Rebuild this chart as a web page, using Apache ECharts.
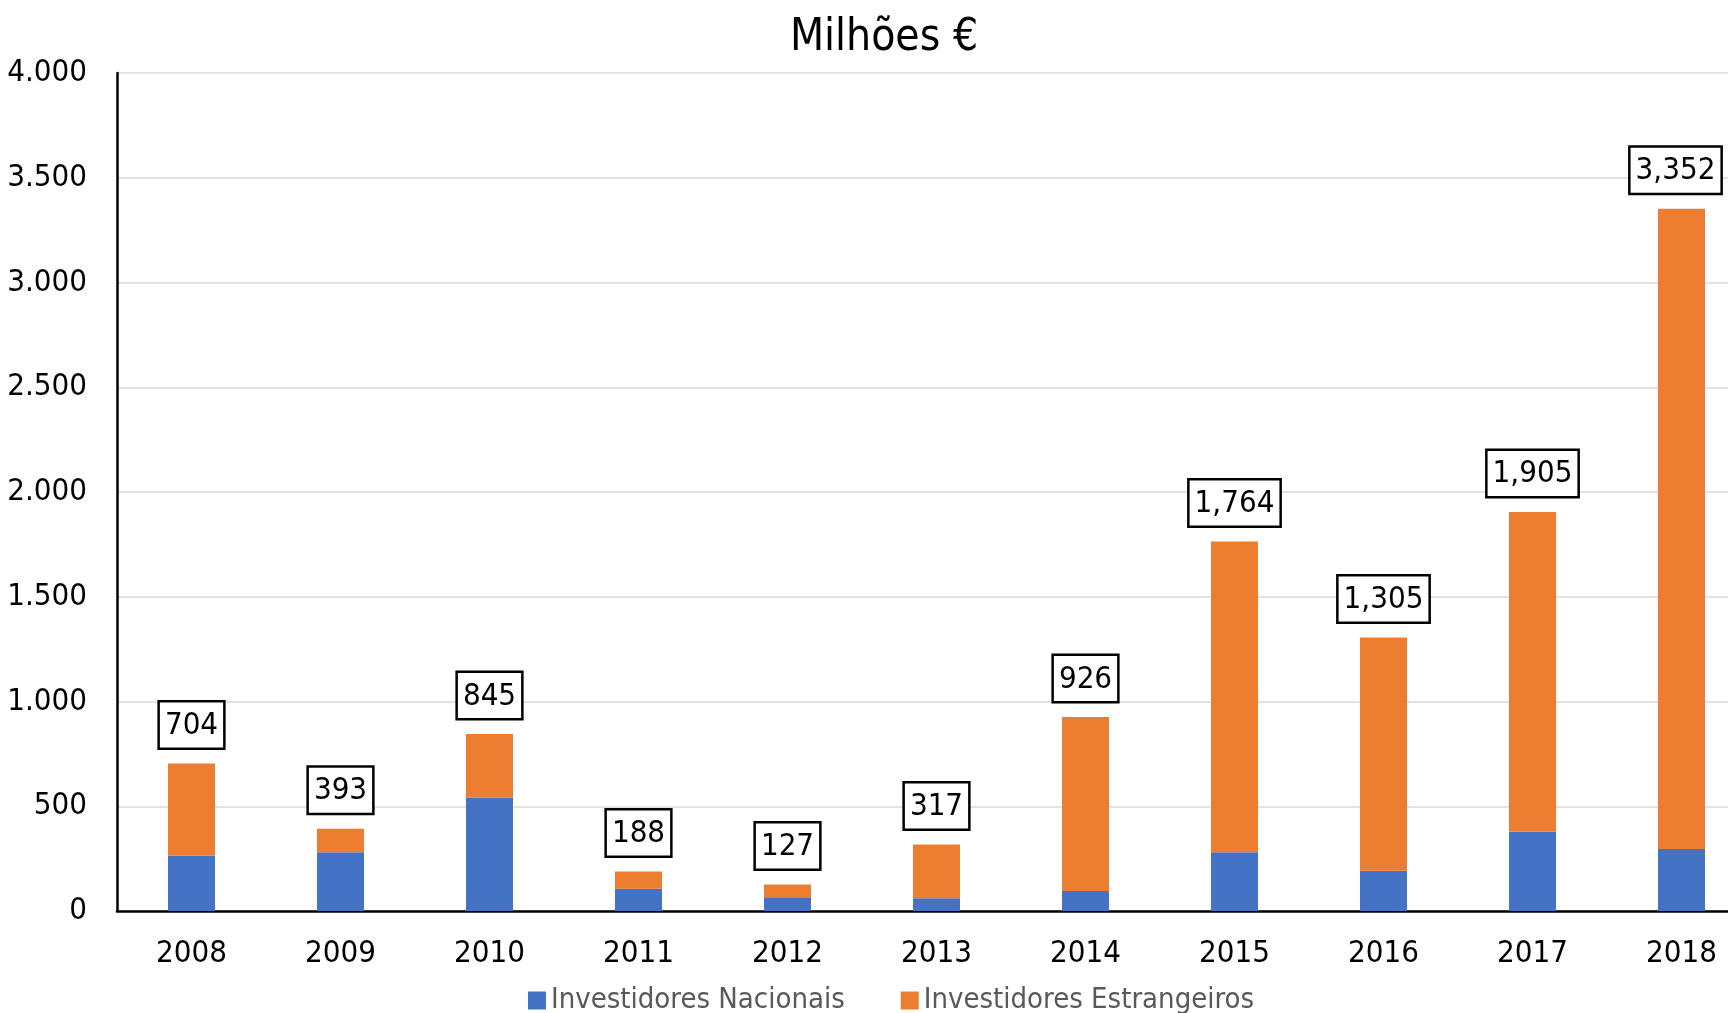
<!DOCTYPE html>
<html>
<head>
<meta charset="utf-8">
<script src="https://cdn.jsdelivr.net/npm/echarts@6/dist/echarts.min.js"></script>
<style>
  html, body { margin: 0; padding: 0; background: #fff; }
  #chart { width: 1728px; height: 1013px; }
</style>
</head>
<body>
<div id="chart"></div>
<script>
const FONT = "'Liberation Sans Narrow', 'DejaVu Sans Condensed', 'Roboto', sans-serif";

const years = ["2008", "2009", "2010", "2011", "2012", "2013", "2014", "2015", "2016", "2017", "2018"];
const totals = [704, 393, 845, 188, 127, 317, 926, 1764, 1305, 1905, 3352];
const nacionais = [264, 281, 540, 106, 66, 61, 96, 280, 192, 380, 296];
const estrangeiros = totals.map((t, i) => t - nacionais[i]);

const chart = echarts.init(document.getElementById("chart"));

function dotThousands(v) {
  return String(v).replace(/\B(?=(\d{3})+(?!\d))/g, ".");
}

function commaThousands(v) {
  return String(v).replace(/\B(?=(\d{3})+(?!\d))/g, ",");
}

// last label sits at the right edge, nudge it back inside like the original
const lastIdx = estrangeiros.length - 1;
const estrangeirosData = estrangeiros.map((v, i) =>
  i === lastIdx ? { value: v, label: { offset: [-6, 0] } } : v
);

chart.setOption({
  animation: false,
  title: {
    text: "Milhões €",
    left: 879,
    top: 12,
    textAlign: "center",
    textStyle: { fontFamily: FONT, fontSize: 44, fontWeight: "normal", color: "#000" }
  },
  legend: {
    data: ["Investidores Nacionais", "Investidores Estrangeiros"],
    left: 523,
    top: 981,
    itemWidth: 18,
    itemHeight: 18,
    itemGap: 56,
    icon: "rect",
    textStyle: { fontFamily: FONT, fontSize: 29, color: "#595959" }
  },
  grid: {
    left: 117,
    top: 73,
    width: 1639,
    height: 838,
    outerBoundsMode: "none",
    containLabel: false
  },
  xAxis: {
    type: "category",
    data: years,
    axisLine: { lineStyle: { color: "#000", width: 2.5 } },
    axisTick: { show: false },
    axisLabel: { fontFamily: FONT, fontSize: 31, color: "#000", margin: 27 }
  },
  yAxis: {
    type: "value",
    min: 0,
    max: 4000,
    interval: 500,
    axisLine: { show: true, lineStyle: { color: "#000", width: 2.5 } },
    axisTick: { show: false },
    splitLine: { lineStyle: { color: "#d9d9d9", width: 1.5 } },
    axisLabel: {
      fontFamily: FONT,
      fontSize: 31,
      color: "#000",
      margin: 30,
      formatter: dotThousands
    }
  },
  series: [
    {
      name: "Investidores Nacionais",
      type: "bar",
      stack: "total",
      barWidth: 47,
      itemStyle: { color: "#4472C4" },
      data: nacionais
    },
    {
      name: "Investidores Estrangeiros",
      type: "bar",
      stack: "total",
      barWidth: 47,
      itemStyle: { color: "#ED7D31" },
      data: estrangeirosData,
      label: {
        show: true,
        position: "top",
        distance: 16,
        formatter: (p) => commaThousands(totals[p.dataIndex]),
        fontFamily: FONT,
        fontSize: 31,
        color: "#000",
        backgroundColor: "#fff",
        borderColor: "#000",
        borderWidth: 2.5,
        padding: [8, 5, 6, 5]
      }
    }
  ]
});

window.addEventListener("resize", () => chart.resize());
</script>
</body>
</html>
